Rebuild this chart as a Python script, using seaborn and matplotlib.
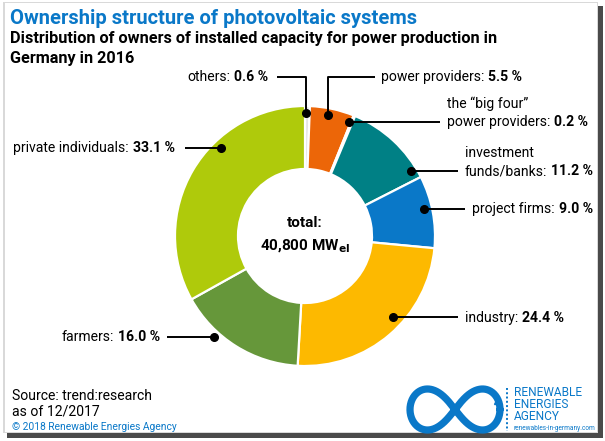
import numpy as np
import matplotlib
matplotlib.use("Agg")
import matplotlib.pyplot as plt
from matplotlib.patches import Rectangle
import seaborn as sns

categories = ["others", "power providers", "the \u201cbig four\u201d power providers",
              "investment funds / banks", "project firms", "industry", "farmers",
              "private individuals"]
shares = [0.6, 5.5, 0.2, 11.2, 9.0, 24.4, 16.0, 33.1]
hex_colors = ["#E4E4E4", "#EC6608", "#F08A40", "#008085", "#0A78C8", "#FDB900", "#66973A", "#AFCA0B"]
title = "Ownership structure of photovoltaic systems"
subtitle = ["Distribution of owners of installed capacity for power production in", "Germany in 2016"]

sns.set_theme(style="white")
plt.rcParams["font.family"] = ["Roboto", "DejaVu Sans"]
palette = sns.color_palette(hex_colors)

W, H = 605, 441
BLUE = "#0A78C8"
fig = plt.figure(figsize=(W / 100, H / 100), dpi=100, facecolor="white")
ax = fig.add_axes([0, 0, 1, 1])
ax.set_xlim(0, W)
ax.set_ylim(0, H)
ax.axis("off")
Y = lambda py: H - py

# frame
ax.add_patch(Rectangle((0, 0), W, H, fc="#FFFFFF", ec="none", zorder=0))
ax.add_patch(Rectangle((7, Y(438)), 596, 432, fc="#4A4A4A", ec="none", zorder=0.1))
ax.add_patch(Rectangle((3, Y(433)), 595, 431, fc="#D9D9D9", ec="none", zorder=0.2))
ax.add_patch(Rectangle((5, Y(432)), 592, 429, fc="white", ec="none", zorder=0.3))

ax.pie(shares, colors=palette, startangle=90, counterclock=False, center=(305, Y(236)),
       radius=130, frame=True, wedgeprops=dict(width=63, edgecolor="white", linewidth=1.6))
ax.set_xlim(0, W)
ax.set_ylim(0, H)
ax.set_aspect("auto")
ax.axis("off")


def t(x, py, s, size=10.1, color="black", weight="normal", ha="left"):
    return ax.text(x, Y(py), s, fontsize=size, color=color, fontweight=weight, ha=ha,
                   va="center", zorder=5)


def label(x, py, name, value, size=10.1):
    a = t(x, py, name, size)
    fig.canvas.draw()
    bb = a.get_window_extent()
    t(bb.x1 + 4, py, value, size, weight="bold")


def leader(*pts):
    xs = [p[0] for p in pts]
    ys = [Y(p[1]) for p in pts]
    ax.plot(xs, ys, color="black", lw=1.4, zorder=4, solid_capstyle="butt")
    ax.plot(xs[-1], ys[-1], "o", color="black", ms=5.5, zorder=4)


t(10, 19, title, 14.5, BLUE, "bold")
t(10, 39, subtitle[0], 11.7, "black", "bold")
t(10, 59, subtitle[1], 11.7, "black", "bold")

label(187, 77, "others:", "0.6 %")
leader((277, 77), (306, 77), (306, 113))
label(381, 77, "power providers:", "5.5 %")
leader((375, 77), (328, 77), (328, 115))
t(447, 104, "the \u201cbig four\u201d")
label(447, 122, "power providers:", "0.2 %")
leader((440, 122), (349, 122))
t(465, 153, "investment")
label(465, 171, "funds/banks:", "11.2 %")
leader((458, 171), (411, 171))
label(472, 209, "project firms:", "9.0 %")
leader((465, 209), (424, 209))
label(465, 318, "industry:", "24.4 %")
leader((458, 317), (393, 317))
label(62, 337, "farmers:", "16.0 %")
leader((167, 337), (214, 337))
label(13, 148, "private individuals:", "33.1 %")
leader((185, 148), (221, 148))

t(305, 223, "total:", 11, weight="bold", ha="center")
t(305, 246, "40,800 MW$_{\\mathbf{el}}$", 11, weight="bold", ha="center")

t(12, 396, "Source: trend:research", 10.1)
t(12, 411, "as of 12/2017", 10.1)
t(12, 427, "\u00a9 2018 Renewable Energies Agency", 7.4, BLUE)

# logo
theta = np.linspace(0, 2 * np.pi, 400)
lx = 455 + 45 * np.cos(theta) / (1 + np.sin(theta) ** 2)
ly = 409.5 + 58 * np.sin(theta) * np.cos(theta) / (1 + np.sin(theta) ** 2)
ax.plot(lx, Y(ly), color=BLUE, lw=5.2, zorder=4)
ax.plot(497, Y(401), "^", color=BLUE, ms=5, zorder=4)
ax.plot([507] * 2, [Y(388), Y(431)], color=BLUE, lw=1.4, ls=(0, (1, 1.2)), zorder=4)
t(514, 393, "RENEWABLE", 8.6, BLUE)
t(514, 405, "ENERGIES", 8.6, BLUE)
t(514, 417, "AGENCY", 8.6, BLUE)
t(514, 429, "renewables-in-germany.com", 4.7, BLUE)

fig.savefig("out.png", dpi=100, facecolor="white")
